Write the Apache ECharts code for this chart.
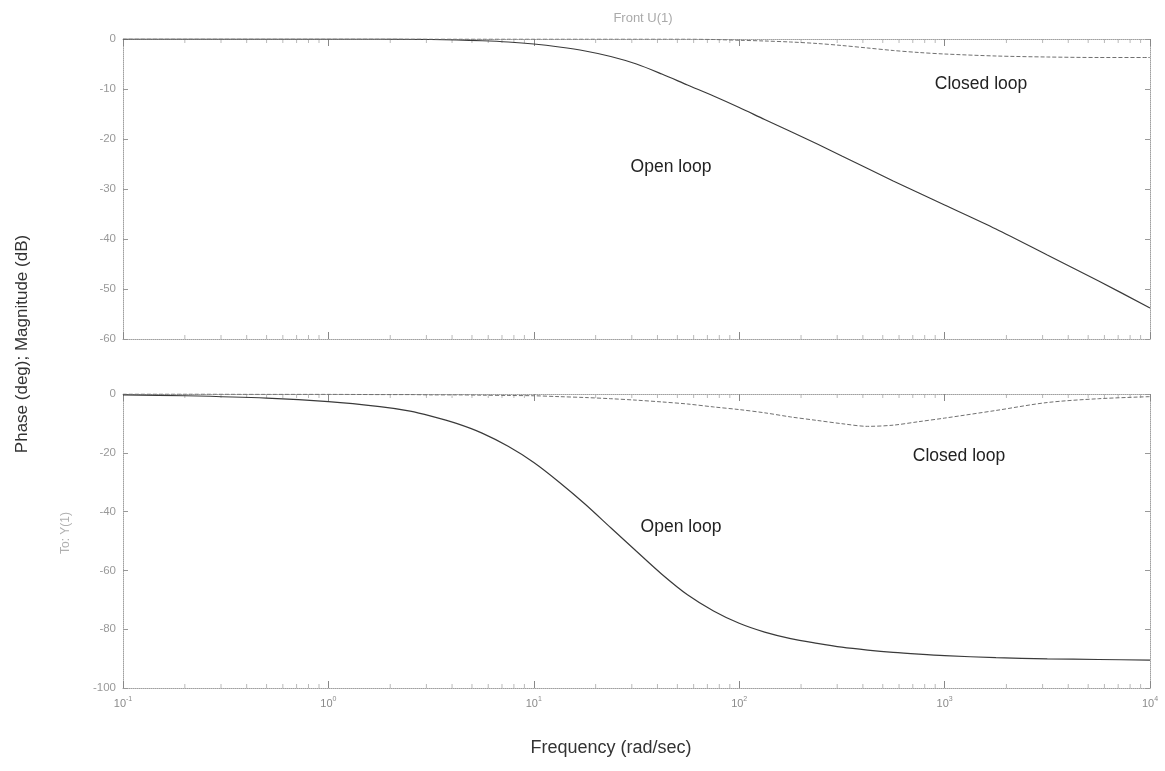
<!DOCTYPE html>
<html>
<head>
<meta charset="utf-8">
<script src="https://cdn.jsdelivr.net/npm/echarts@6/dist/echarts.min.js"></script>
<style>
html,body{margin:0;padding:0;background:#fff;}
#chart{width:1165px;height:771px;}
</style>
</head>
<body>
<div id="chart"></div>
<script>
// Frequency grid (rad/sec)
const freq = [0.1, 0.2, 0.5, 1, 1.78, 2.5, 3.16, 4.2, 5.6, 7.5, 10, 13.3, 17.8, 23.7, 31.6, 42, 56, 75, 100, 133, 178, 240, 316, 422, 562, 750, 1000, 1778, 3162, 5623, 10000];
// Magnitude (dB)
const magOpen = [0, 0, 0, 0, 0, -0.05, -0.1, -0.2, -0.35, -0.6, -1.0, -1.6, -2.4, -3.5, -5.0, -7.0, -9.2, -11.4, -13.7, -16.1, -18.5, -21.0, -23.4, -25.9, -28.4, -30.8, -33.2, -38.0, -43.2, -48.4, -53.8];
const magClosed = [0, 0, 0, 0, 0, 0, 0, 0, 0, 0, 0, 0, 0, 0, 0, 0, 0, -0.1, -0.25, -0.4, -0.6, -0.9, -1.3, -1.8, -2.3, -2.7, -3.0, -3.4, -3.6, -3.7, -3.7];
// Phase (deg)
const phaseOpen = [-0.3, -0.6, -1.4, -2.6, -4.3, -5.8, -7.5, -10.0, -13.3, -17.8, -23.3, -30, -37.5, -45.5, -53.5, -61.3, -68.3, -73.8, -78, -81, -83.2, -84.8, -86.1, -87.1, -87.9, -88.5, -89, -89.7, -90.1, -90.3, -90.5];
const phaseClosed = [0, 0, -0.1, -0.1, -0.2, -0.2, -0.3, -0.3, -0.4, -0.5, -0.6, -0.9, -1.2, -1.6, -2.1, -2.7, -3.4, -4.4, -5.3, -6.4, -7.8, -9.0, -10.1, -11.0, -10.6, -9.4, -8.2, -5.6, -2.9, -1.6, -0.9];
// Tick labels
const magTicks = [0, -10, -20, -30, -40, -50, -60];
const phaseTicks = [0, -20, -40, -60, -80, -100];
const decadeExponents = ['-1', '0', '1', '2', '3', '4'];
const minorMultipliers = [2, 3, 4, 5, 6, 7, 8, 9];

const pair = (ys) => freq.map((f, i) => [f, ys[i]]);

// minor (log) tick positions along the frame
const minorFreqs = [];
decadeExponents.slice(0, -1).forEach(e => minorMultipliers.forEach(m => minorFreqs.push(m * Math.pow(10, +e))));

const axisGrey = '#a0a0a0';
function xAx(grid, pos, labels) {
  return {
    gridIndex: grid, type: 'log', logBase: 10, min: 0.1, max: 10000, position: pos,
    axisLine: {show: true, onZero: false, lineStyle: {color: axisGrey, type: 'dotted', width: 1}},
    axisTick: {show: true, inside: true, length: 7, lineStyle: {color: '#888'}},
    minorTick: {show: false},
    splitLine: {show: false},
    axisLabel: {
      show: labels, margin: 8,
      formatter: v => '{b|10}{s|' + Math.round(Math.log10(v)) + '}',
      rich: {
        b: {fontSize: 11, color: '#8a8a8a', fontFamily: 'Liberation Sans', lineHeight: 16},
        s: {fontSize: 7, color: '#8a8a8a', fontFamily: 'Liberation Sans', verticalAlign: 'top', lineHeight: 16}
      }
    }
  };
}
function yAx(grid, pos, min, interval, labels) {
  return {
    gridIndex: grid, type: 'value', min: min, max: 0, interval: interval, position: pos,
    axisLine: {show: true, onZero: false, lineStyle: {color: axisGrey, type: 'dotted', width: 1}},
    axisTick: {show: true, inside: true, length: 5, lineStyle: {color: '#999'}},
    splitLine: {show: false},
    axisLabel: {show: labels, color: '#999', fontSize: 11.5, fontFamily: 'Liberation Sans', margin: 7}
  };
}
function minorSeries(xi, yi, yv, dir) {
  return {
    type: 'scatter', xAxisIndex: xi, yAxisIndex: yi, silent: true, z: 1,
    data: minorFreqs.map(f => [f, yv]),
    symbol: 'rect', symbolSize: [1, 4], symbolOffset: [0, dir * 2],
    itemStyle: {color: '#a8a8a8'}
  };
}

const annoFont = '17.5px "Liberation Sans"';
const chart = echarts.init(document.getElementById('chart'));
chart.setOption({
  animation: false,
  backgroundColor: '#fff',
  grid: [
    {left: 123, right: 15, top: 39, height: 300},
    {left: 123, right: 15, top: 394, height: 294}
  ],
  xAxis: [xAx(0, 'bottom', false), xAx(0, 'top', false), xAx(1, 'bottom', true), xAx(1, 'top', false)],
  yAxis: [
    yAx(0, 'left', magTicks[magTicks.length - 1], 10, true), yAx(0, 'right', -60, 10, false),
    yAx(1, 'left', phaseTicks[phaseTicks.length - 1], 20, true), yAx(1, 'right', -100, 20, false)
  ],
  series: [
    minorSeries(0, 0, 0, 1), minorSeries(0, 0, -60, -1),
    minorSeries(2, 2, 0, 1), minorSeries(2, 2, -100, -1),
    {name: 'Open loop', type: 'line', xAxisIndex: 0, yAxisIndex: 0, data: pair(magOpen), showSymbol: false, smooth: 0.3,
     lineStyle: {color: '#3a3a3a', width: 1.2}},
    {name: 'Closed loop', type: 'line', xAxisIndex: 0, yAxisIndex: 0, data: pair(magClosed), showSymbol: false, smooth: 0.3,
     lineStyle: {color: '#707070', width: 1, type: [4, 2]}},
    {name: 'Open loop', type: 'line', xAxisIndex: 2, yAxisIndex: 2, data: pair(phaseOpen), showSymbol: false, smooth: 0.3,
     lineStyle: {color: '#3a3a3a', width: 1.2}},
    {name: 'Closed loop', type: 'line', xAxisIndex: 2, yAxisIndex: 2, data: pair(phaseClosed), showSymbol: false, smooth: 0.3,
     lineStyle: {color: '#707070', width: 1, type: [4, 2]}}
  ],
  graphic: [
    {type: 'text', x: 643, y: 18, style: {text: 'Front U(1)', fill: '#aaa', font: '13px "Liberation Sans"', align: 'center', verticalAlign: 'middle'}},
    {type: 'text', x: 66, y: 533, rotation: Math.PI / 2, style: {text: 'To: Y(1)', fill: '#b0b0b0', font: '12px "Liberation Sans"', align: 'center', verticalAlign: 'middle'}},
    {type: 'text', x: 22, y: 344, rotation: Math.PI / 2, style: {text: 'Phase (deg); Magnitude (dB)', fill: '#333', font: '17px "Liberation Sans"', align: 'center', verticalAlign: 'middle'}},
    {type: 'text', x: 611, y: 748, style: {text: 'Frequency (rad/sec)', fill: '#333', font: '18px "Liberation Sans"', align: 'center', verticalAlign: 'middle'}},
    {type: 'text', x: 671, y: 167, style: {text: 'Open loop', fill: '#222', font: annoFont, align: 'center', verticalAlign: 'middle'}},
    {type: 'text', x: 981, y: 84, style: {text: 'Closed loop', fill: '#222', font: annoFont, align: 'center', verticalAlign: 'middle'}},
    {type: 'text', x: 959, y: 456, style: {text: 'Closed loop', fill: '#222', font: annoFont, align: 'center', verticalAlign: 'middle'}},
    {type: 'text', x: 681, y: 527, style: {text: 'Open loop', fill: '#222', font: annoFont, align: 'center', verticalAlign: 'middle'}}
  ]
});
</script>
</body>
</html>
